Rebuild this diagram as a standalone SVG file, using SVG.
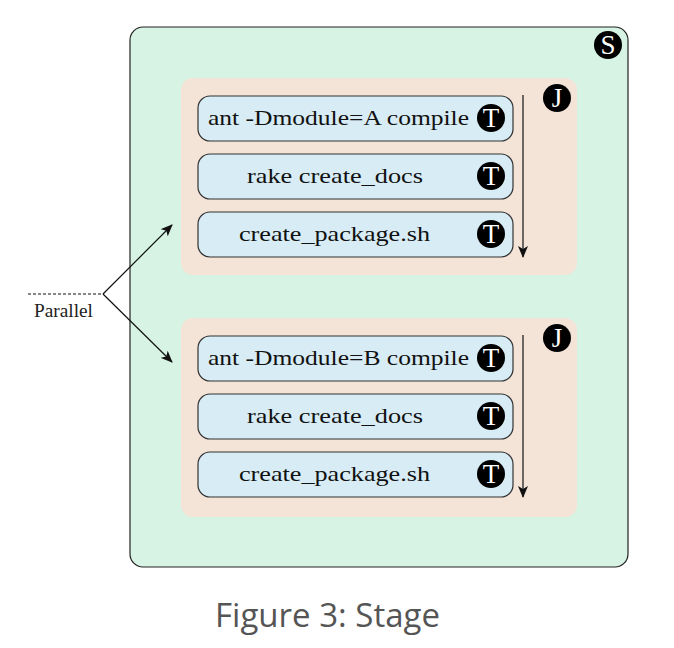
<svg xmlns="http://www.w3.org/2000/svg" width="674" height="648" viewBox="0 0 674 648">
<style>
.stage{fill:#d7f3e4;stroke:#222;stroke-width:1.2}
.job{fill:#f4e3d7}
.task{fill:#d7ecf4;stroke:#333;stroke-width:1.2}
.badge{fill:#000}
.bt{font-family:"Liberation Serif","DejaVu Serif",serif;font-size:27px;fill:#fff;text-anchor:middle}
.tt{font-family:"Liberation Serif","DejaVu Serif",serif;font-size:22px;fill:#111;text-anchor:middle}
.lbl{font-family:"Liberation Serif","DejaVu Serif",serif;font-size:18.5px;fill:#222;text-anchor:middle}
.cap{font-family:"Open Sans","Noto Sans",sans-serif;font-size:32px;fill:#555;text-anchor:middle}
.ln{stroke:#111;stroke-width:1.2;fill:none}
</style>
<defs>
<marker id="ah" viewBox="0 0 12 10" refX="11" refY="5" markerWidth="12" markerHeight="10" markerUnits="userSpaceOnUse" orient="auto">
<path d="M0,0 L12,5 L0,10 L3,5 Z" fill="#111"/>
</marker>
</defs>
<g id="stage">
<rect class="stage" x="130" y="27" width="498" height="540" rx="13"/>
<circle class="badge" cx="608" cy="45" r="14"/>
<text class="bt" x="608" y="54">S</text>
</g>
<g id="jobA">
<rect class="job" x="181" y="78" width="396" height="197" rx="12"/>
<circle class="badge" cx="557" cy="98" r="14"/>
<text class="bt" x="557" y="107">J</text>
</g>
<g id="taskA1">
<rect class="task" x="198" y="96" width="315" height="45" rx="12"/>
<text class="tt" x="338.5" y="125" textLength="261" lengthAdjust="spacingAndGlyphs">ant -Dmodule=A compile</text>
<circle class="badge" cx="491" cy="118" r="14"/>
<text class="bt" x="491" y="127">T</text>
</g>
<g id="taskA2">
<rect class="task" x="198" y="154" width="315" height="45" rx="12"/>
<text class="tt" x="335" y="183" textLength="176" lengthAdjust="spacingAndGlyphs">rake create_docs</text>
<circle class="badge" cx="491" cy="176" r="14"/>
<text class="bt" x="491" y="185">T</text>
</g>
<g id="taskA3">
<rect class="task" x="198" y="212" width="315" height="45" rx="12"/>
<text class="tt" x="334.5" y="241" textLength="191" lengthAdjust="spacingAndGlyphs">create_package.sh</text>
<circle class="badge" cx="491" cy="234" r="14"/>
<text class="bt" x="491" y="243">T</text>
</g>
<g id="jobB">
<rect class="job" x="181" y="318" width="396" height="199" rx="12"/>
<circle class="badge" cx="557" cy="338" r="14"/>
<text class="bt" x="557" y="347">J</text>
</g>
<g id="taskB1">
<rect class="task" x="198" y="336" width="315" height="45" rx="12"/>
<text class="tt" x="338.5" y="365" textLength="261" lengthAdjust="spacingAndGlyphs">ant -Dmodule=B compile</text>
<circle class="badge" cx="491" cy="358" r="14"/>
<text class="bt" x="491" y="367">T</text>
</g>
<g id="taskB2">
<rect class="task" x="198" y="394" width="315" height="45" rx="12"/>
<text class="tt" x="335" y="423" textLength="176" lengthAdjust="spacingAndGlyphs">rake create_docs</text>
<circle class="badge" cx="491" cy="416" r="14"/>
<text class="bt" x="491" y="425">T</text>
</g>
<g id="taskB3">
<rect class="task" x="198" y="452" width="315" height="45" rx="12"/>
<text class="tt" x="334.5" y="481" textLength="191" lengthAdjust="spacingAndGlyphs">create_package.sh</text>
<circle class="badge" cx="491" cy="474" r="14"/>
<text class="bt" x="491" y="483">T</text>
</g>
<g id="connectors">
<line class="ln" x1="523" y1="95" x2="523" y2="257" marker-end="url(#ah)"/>
<line class="ln" x1="523" y1="335" x2="523" y2="497" marker-end="url(#ah)"/>
<line class="ln" x1="28" y1="294" x2="103" y2="294" stroke-dasharray="3,2"/>
<line class="ln" x1="103" y1="294" x2="172" y2="225" marker-end="url(#ah)"/>
<line class="ln" x1="103" y1="294" x2="172" y2="362" marker-end="url(#ah)"/>
</g>
<text class="lbl" x="63.5" y="317" textLength="59" lengthAdjust="spacingAndGlyphs">Parallel</text>
<text class="cap" x="327.5" y="627" textLength="225" lengthAdjust="spacingAndGlyphs">Figure 3: Stage</text>
</svg>
